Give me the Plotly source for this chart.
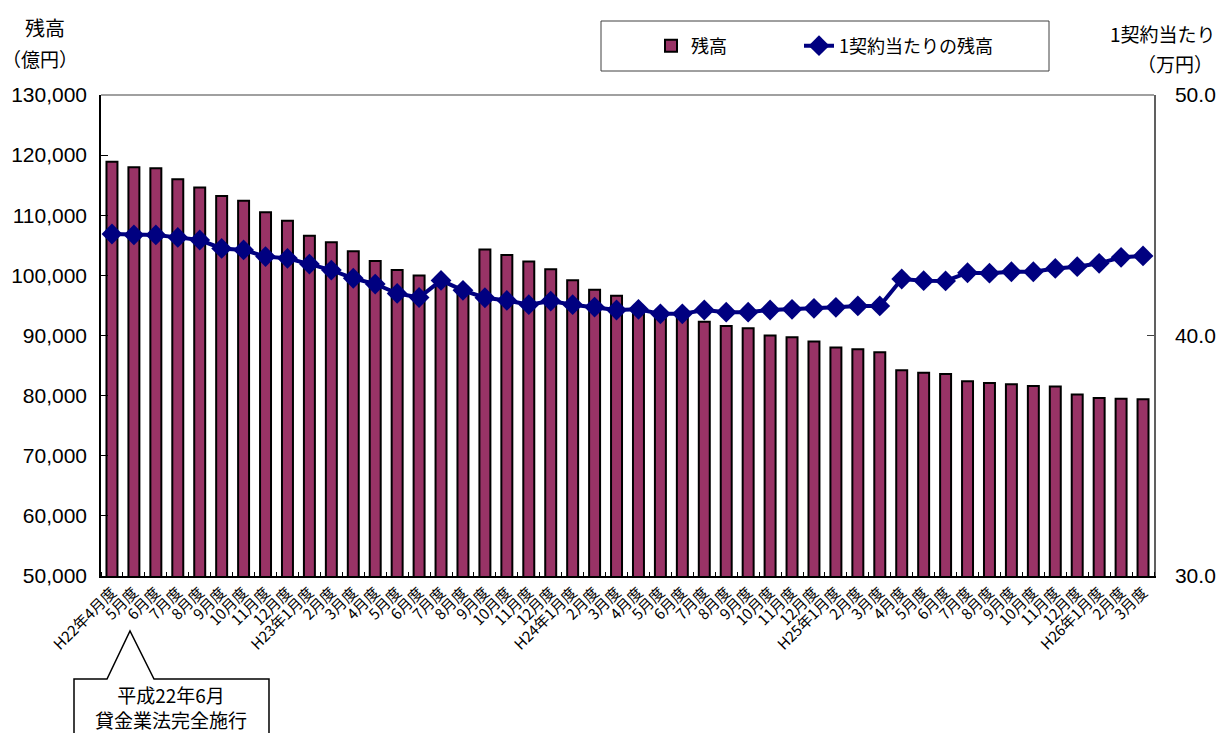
import plotly.graph_objects as go

labels = ["H22年4月度", "5月度", "6月度", "7月度", "8月度", "9月度", "10月度", "11月度", "12月度",
          "H23年1月度", "2月度", "3月度", "4月度", "5月度", "6月度", "7月度", "8月度", "9月度",
          "10月度", "11月度", "12月度", "H24年1月度", "2月度", "3月度", "4月度", "5月度", "6月度",
          "7月度", "8月度", "9月度", "10月度", "11月度", "12月度", "H25年1月度", "2月度", "3月度",
          "4月度", "5月度", "6月度", "7月度", "8月度", "9月度", "10月度", "11月度", "12月度",
          "H26年1月度", "2月度", "3月度"]

balance = [118900, 118000, 117800, 116000, 114600, 113200, 112400, 110500, 109100,
           106600, 105500, 104000, 102400, 100900, 100000, 98700, 97400, 104300,
           103400, 102300, 101000, 99200, 97600, 96600, 94700, 93700, 93000,
           92300, 91600, 91200, 90000, 89700, 89000, 88000, 87700, 87200,
           84200, 83800, 83600, 82400, 82100, 81900, 81600, 81500, 80200,
           79600, 79500, 79400]

per_contract = [44.22, 44.18, 44.18, 44.08, 43.97, 43.62, 43.56, 43.28, 43.21,
                42.97, 42.72, 42.38, 42.14, 41.75, 41.58, 42.29, 41.88, 41.57,
                41.46, 41.28, 41.43, 41.28, 41.18, 41.06, 41.09, 40.90, 40.90,
                41.06, 40.97, 40.97, 41.06, 41.09, 41.13, 41.17, 41.23, 41.23,
                42.35, 42.28, 42.27, 42.61, 42.59, 42.65, 42.65, 42.79, 42.86,
                43.00, 43.25, 43.31]

left_ticks = [50000, 60000, 70000, 80000, 90000, 100000, 110000, 120000, 130000]
right_ticks = [30.0, 40.0, 50.0]

JP = "Noto Sans CJK JP"
NUM = "Liberation Sans, Arial, Noto Sans CJK JP"

W, H = 1226, 733
L, R, T, B = 101, 1154, 95, 576

def px(x):
    return (x - L) / (R - L)

def py(y):
    return (B - y) / (B - T)

xs = list(range(len(labels)))

fig = go.Figure()
fig.add_trace(go.Bar(
    x=xs, y=balance, name="残高",
    marker=dict(color="#993366", line=dict(color="black", width=2)),
    yaxis="y", legend="legend",
))
fig.add_trace(go.Scatter(
    x=xs, y=per_contract, name="1契約当たりの残高", mode="lines+markers",
    line=dict(color="#000080", width=4),
    marker=dict(symbol="diamond", size=16, color="#000080"),
    yaxis="y2", legend="legend2",
))

# callout shape
cx = [74, 107, 130, 154, 269, 269, 74]
cy = [679, 679, 631, 679, 679, 745, 745]
path = "M " + " L ".join(f"{px(a):.5f},{py(b):.5f}" for a, b in zip(cx, cy)) + " Z"

shapes = [
    dict(type="path", xref="paper", yref="paper", path=path,
         line=dict(color="black", width=1.5), fillcolor="white"),
    dict(type="line", xref="paper", yref="paper", x0=0, x1=1, y0=1, y1=1,
         line=dict(color="#808080", width=1.5)),
    dict(type="rect", xref="paper", yref="paper", x0=px(601), x1=px(1049),
         y0=py(71), y1=py(21), line=dict(color="#404040", width=1)),
]

def ann(text, x, y, size=19):
    return dict(text=text, x=px(x), y=py(y), xref="paper", yref="paper", showarrow=False,
                font=dict(family=JP, size=size, color="black"),
                xanchor="center", yanchor="middle")

annotations = [
    ann("残高", 45, 28, 20),
    ann("（億円）", 40, 58),
    ann("1契約当たり", 1163, 33),
    ann("（万円）", 1175, 63),
    ann("平成22年6月<br>貸金業法完全施行", 171, 707, 19),
]

leg_font = dict(family=JP, size=18, color="black")

fig.update_layout(
    width=W, height=H,
    margin=dict(l=L, r=W - R, t=T, b=H - B, pad=0, autoexpand=False),
    paper_bgcolor="white", plot_bgcolor="white",
    bargap=0.5,
    showlegend=True,
    legend=dict(orientation="h", x=px(651), y=py(46), xanchor="left", yanchor="middle",
                font=leg_font, bgcolor="rgba(0,0,0,0)"),
    legend2=dict(orientation="h", x=px(799), y=py(46), xanchor="left", yanchor="middle",
                 font=leg_font, bgcolor="rgba(0,0,0,0)"),
    xaxis=dict(
        range=[-0.5, len(labels) - 0.5],
        tickmode="array", tickvals=xs, ticktext=labels,
        tickangle=-45, ticks="", showgrid=False, zeroline=False,
        showline=True, linecolor="black", linewidth=1.5,
        tickfont=dict(family=JP, size=15, color="black"),
        minor=dict(tickmode="linear", tick0=-0.5, dtick=1, ticks="inside",
                   ticklen=4, tickcolor="black", showgrid=False),
    ),
    yaxis=dict(
        range=[50000, 130000], tickmode="array", tickvals=left_ticks,
        tickformat=",d", ticks="inside", ticklen=7, tickcolor="black",
        showgrid=False, zeroline=False, showline=True, linecolor="black", linewidth=1.5,
        tickfont=dict(family=NUM, size=21, color="black"), ticklabelstandoff=8,
    ),
    yaxis2=dict(
        range=[30, 50], tickmode="array", tickvals=right_ticks, tickformat=".1f",
        overlaying="y", side="right", ticks="inside", ticklen=7, tickcolor="#404040",
        showgrid=False, zeroline=False, showline=True, linecolor="#606060", linewidth=1.5,
        tickfont=dict(family=NUM, size=21, color="black"), ticklabelstandoff=15,
    ),
    shapes=shapes,
    annotations=annotations,
)

fig.write_html("out.html", config={"displayModeBar": False},
               post_script="document.body.style.margin='0px';")
